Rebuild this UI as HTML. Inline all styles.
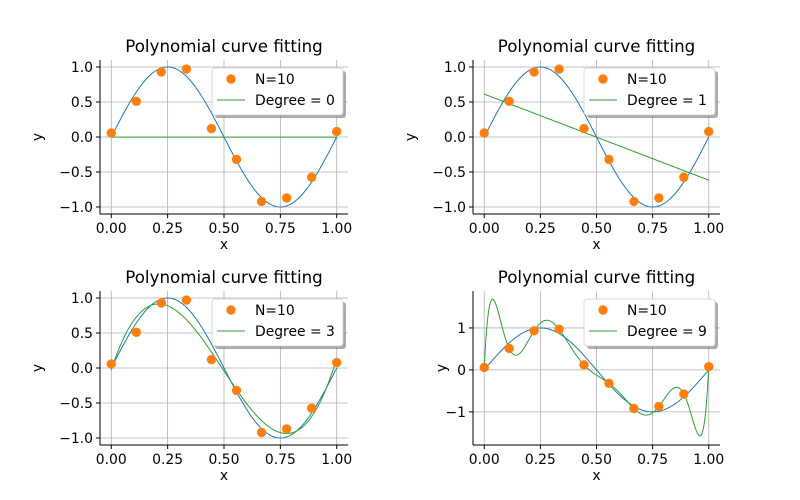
<!DOCTYPE html>
<html><head><meta charset="utf-8"><style>
html,body{margin:0;padding:0;background:#fff;}
svg{display:block;font-family:"DejaVu Sans","Liberation Sans",sans-serif;}
</style></head><body>
<svg id="fig" width="800" height="500" viewBox="0 0 800 500"></svg>
<script>
const sampleX = [0,1/9,2/9,3/9,4/9,5/9,6/9,7/9,8/9,1];
const sampleY = [0.058,0.51,0.93,0.97,0.12,-0.32,-0.92,-0.87,-0.575,0.077];
const degrees = [0,1,3,9];
const xTicks = [0,0.25,0.5,0.75,1];
const xTickLabels = ["0.00","0.25","0.50","0.75","1.00"];
const yTicksA = [-1,-0.5,0,0.5,1];
const yTickLabelsA = ["−1.0","−0.5","0.0","0.5","1.0"];
const yTicksB = [-1,0,1];
const yTickLabelsB = ["−1","0","1"];

const NS="http://www.w3.org/2000/svg";
const svg=document.getElementById('fig');
function mk(tag,attrs,parent){const e=document.createElementNS(NS,tag);for(const k in attrs)e.setAttribute(k,attrs[k]);(parent||svg).appendChild(e);return e;}

function polyfit(xs,ys,deg){
  const n=deg+1;const A=[];for(let i=0;i<n;i++){A.push(new Array(n+1).fill(0));}
  for(let k=0;k<xs.length;k++){const p=[];for(let i=0;i<n;i++)p.push(Math.pow(xs[k],i));
    for(let i=0;i<n;i++){for(let j=0;j<n;j++)A[i][j]+=p[i]*p[j];A[i][n]+=p[i]*ys[k];}}
  for(let c=0;c<n;c++){let m=c;for(let r=c+1;r<n;r++)if(Math.abs(A[r][c])>Math.abs(A[m][c]))m=r;
    [A[c],A[m]]=[A[m],A[c]];for(let r=0;r<n;r++){if(r===c)continue;const f=A[r][c]/A[c][c];for(let j=c;j<=n;j++)A[r][j]-=f*A[c][j];}}
  return A.map((row,i)=>row[n]/row[i]);
}
function lagrange(xs,ys,x){let s=0;for(let i=0;i<xs.length;i++){let t=ys[i];for(let j=0;j<xs.length;j++)if(j!==i)t*=(x-xs[j])/(xs[i]-xs[j]);s+=t;}return s;}
function evalFit(deg,x){
  if(deg>=sampleX.length-1)return lagrange(sampleX,sampleY,x);
  const c=polyfit(sampleX,sampleY,deg);let s=0;for(let i=c.length-1;i>=0;i--)s=s*x+c[i];return s;
}

const FS=13.9;
const panels=[
 {l:100,r:348,t:60,b:214,ymin:-1.1,ymax:1.1,yt:yTicksA,yl:yTickLabelsA},
 {l:473,r:720,t:60,b:214,ymin:-1.1,ymax:1.1,yt:yTicksA,yl:yTickLabelsA},
 {l:100,r:348,t:291,b:445,ymin:-1.1,ymax:1.1,yt:yTicksA,yl:yTickLabelsA},
 {l:473,r:720,t:291,b:445,ymin:-1.79,ymax:1.88,yt:yTicksB,yl:yTickLabelsB},
];
panels.forEach((P,pi)=>{
  const deg=degrees[pi];
  const g=mk('g',{});
  
  
  const X=v=>P.l+(v+0.05)/1.1*(P.r-P.l);
  const Y=v=>P.b-(v-P.ymin)/(P.ymax-P.ymin)*(P.b-P.t);
  xTicks.forEach(v=>mk('line',{x1:X(v),x2:X(v),y1:P.t,y2:P.b,stroke:'#b0b0b0','stroke-width':0.8},g));
  P.yt.forEach(v=>mk('line',{x1:P.l,x2:P.r,y1:Y(v),y2:Y(v),stroke:'#b0b0b0','stroke-width':0.8},g));
  mk('line',{x1:P.l,x2:P.l,y1:P.t,y2:P.b,stroke:'#000','stroke-width':1},g);
  mk('line',{x1:P.l,x2:P.r,y1:P.b,y2:P.b,stroke:'#000','stroke-width':1},g);
  xTicks.forEach((v,i)=>{mk('line',{x1:X(v),x2:X(v),y1:P.b,y2:P.b+4,stroke:'#000'},g);
    const t=mk('text',{x:X(v),y:P.b+19,'text-anchor':'middle','font-size':FS},g);t.textContent=xTickLabels[i];
    
    });
  P.yt.forEach((v,i)=>{mk('line',{x1:P.l-4,x2:P.l,y1:Y(v),y2:Y(v),stroke:'#000'},g);
    const t=mk('text',{x:P.l-7,y:Y(v)+5,'text-anchor':'end','font-size':FS},g);t.textContent=P.yl[i];
    
    });
  const cx=(P.l+P.r)/2;
  const tt=mk('text',{x:cx,y:P.t-8,'text-anchor':'middle','font-size':16.7},g);tt.textContent='Polynomial curve fitting';
  
  
  const xl=mk('text',{x:cx,y:P.b+35,'text-anchor':'middle','font-size':FS},g);xl.textContent='x';
  
  
  const yy=(P.t+P.b)/2;
  const yx=P.l-(pi===3?27:58);
  const yl=mk('text',{x:yx,y:yy,'text-anchor':'middle','font-size':FS,transform:`rotate(-90 ${yx} ${yy})`},g);yl.textContent='y';
  
  
  const cid='clip'+pi;const cp=mk('clipPath',{id:cid},g);mk('rect',{x:P.l,y:P.t,width:P.r-P.l,height:P.b-P.t},cp);
  let d='';for(let i=0;i<=200;i++){const x=i/200;d+=(i?'L':'M')+X(x).toFixed(2)+','+Y(Math.sin(2*Math.PI*x)).toFixed(2);}
  const tc=mk('path',{d:d,fill:'none',stroke:'#1f77b4','stroke-width':1,'clip-path':`url(#${cid})`},g);
  
  
  let f='';for(let i=0;i<=400;i++){const x=i/400;f+=(i?'L':'M')+X(x).toFixed(2)+','+Y(evalFit(deg,x)).toFixed(2);}
  const fc=mk('path',{d:f,fill:'none',stroke:'#2ca02c','stroke-width':1,'clip-path':`url(#${cid})`},g);
  
  
  sampleX.forEach((x,i)=>{const c=mk('circle',{cx:X(x),cy:Y(sampleY[i]),r:4.7,fill:'#ff7f0e'},g);
    
    });
  const lx=P.r-136,ly=P.t+8;
  const lg=mk('g',{},g);
  
  
  mk('rect',{x:lx+3,y:ly+3,width:131,height:47,rx:3,fill:'#888',opacity:0.7},lg);
  mk('rect',{x:lx,y:ly,width:131,height:47,rx:3,fill:'#fff',stroke:'#d0d0d0','stroke-width':0.8},lg);
  mk('circle',{cx:lx+19,cy:ly+11,r:4.7,fill:'#ff7f0e'},lg);
  const t1=mk('text',{x:lx+43,y:ly+16,'font-size':FS},lg);t1.textContent='N=10';
  mk('line',{x1:lx+5,x2:lx+33,y1:ly+32,y2:ly+32,stroke:'#2ca02c','stroke-width':1},lg);
  const t2=mk('text',{x:lx+43,y:ly+37,'font-size':FS},lg);t2.textContent='Degree = '+deg;
});
</script>
</body></html>
